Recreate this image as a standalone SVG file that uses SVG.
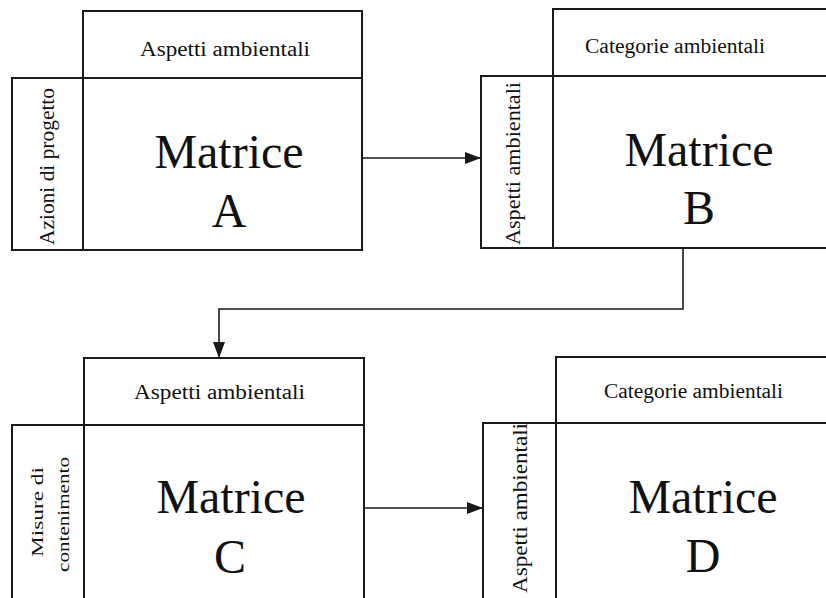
<svg xmlns="http://www.w3.org/2000/svg" width="826" height="598" viewBox="0 0 826 598">
<style>
.box{fill:#fff;stroke:#1a1a1a;stroke-width:2}
.ln{fill:none;stroke:#1a1a1a;stroke-width:2}
.hd{font-family:"Liberation Serif","Times New Roman",serif;font-size:20px;fill:#111}
.sd{font-family:"Liberation Serif","Times New Roman",serif;font-size:20px;fill:#111}
.sd2{font-family:"Liberation Serif","Times New Roman",serif;font-size:17px;fill:#111}
.big{font-family:"Liberation Serif","Times New Roman",serif;font-size:48px;fill:#111;text-anchor:middle}
.con{fill:none;stroke:#1a1a1a;stroke-width:1.6}
</style>
<defs>
<marker id="ah" viewBox="0 0 16 12" refX="16" refY="6" markerWidth="16" markerHeight="12" markerUnits="userSpaceOnUse" orient="auto">
<path d="M0,0 L16,6 L0,12 Z" fill="#1a1a1a"/>
</marker>
</defs>
<rect width="826" height="598" fill="#fff"/>

<g id="matriceA">
<rect class="box" x="83" y="11" width="279" height="67"/>
<rect class="box" x="12" y="78" width="350" height="172"/>
<line class="ln" x1="83" y1="78" x2="83" y2="250"/>
<text class="hd" x="140" y="56" textLength="170" lengthAdjust="spacingAndGlyphs">Aspetti ambientali</text>
<text class="sd" transform="translate(54,245) rotate(-90)" textLength="157" lengthAdjust="spacingAndGlyphs">Azioni di progetto</text>
<text class="big" x="229" y="168">Matrice</text>
<text class="big" x="229" y="227">A</text>
</g>

<g id="matriceB">
<rect class="box" x="553" y="9" width="280" height="67"/>
<rect class="box" x="481" y="76" width="352" height="172"/>
<line class="ln" x1="553" y1="76" x2="553" y2="248"/>
<text class="hd" x="585" y="53" textLength="180" lengthAdjust="spacingAndGlyphs">Categorie ambientali</text>
<text class="sd" transform="translate(520,245) rotate(-90)" textLength="163" lengthAdjust="spacingAndGlyphs">Aspetti ambientali</text>
<text class="big" x="699" y="166">Matrice</text>
<text class="big" x="699" y="224">B</text>
</g>

<g id="matriceC">
<rect class="box" x="84" y="358" width="280" height="67"/>
<rect class="box" x="12" y="425" width="352" height="180"/>
<line class="ln" x1="84" y1="425" x2="84" y2="605"/>
<text class="hd" x="134" y="399" textLength="171" lengthAdjust="spacingAndGlyphs">Aspetti ambientali</text>
<text class="sd2" transform="translate(43,557) rotate(-90)" textLength="90" lengthAdjust="spacingAndGlyphs">Misure di</text>
<text class="sd2" transform="translate(69,572) rotate(-90)" textLength="115" lengthAdjust="spacingAndGlyphs">contenimento</text>
<text class="big" x="231" y="513">Matrice</text>
<text class="big" x="230" y="573">C</text>
</g>

<g id="matriceD">
<rect class="box" x="556" y="357" width="280" height="66"/>
<rect class="box" x="483" y="423" width="353" height="182"/>
<line class="ln" x1="556" y1="423" x2="556" y2="605"/>
<text class="hd" x="604" y="398" textLength="179" lengthAdjust="spacingAndGlyphs">Categorie ambientali</text>
<text class="sd" transform="translate(527,593) rotate(-90)" textLength="170" lengthAdjust="spacingAndGlyphs">Aspetti ambientali</text>
<text class="big" x="703" y="513">Matrice</text>
<text class="big" x="703" y="572">D</text>
</g>

<g id="connectors">
<line class="con" x1="362" y1="158" x2="481" y2="158" marker-end="url(#ah)"/>
<polyline class="con" points="683,248 683,309 219,309 219,358" marker-end="url(#ah)"/>
<line class="con" x1="364" y1="508" x2="483" y2="508" marker-end="url(#ah)"/>
</g>
</svg>
